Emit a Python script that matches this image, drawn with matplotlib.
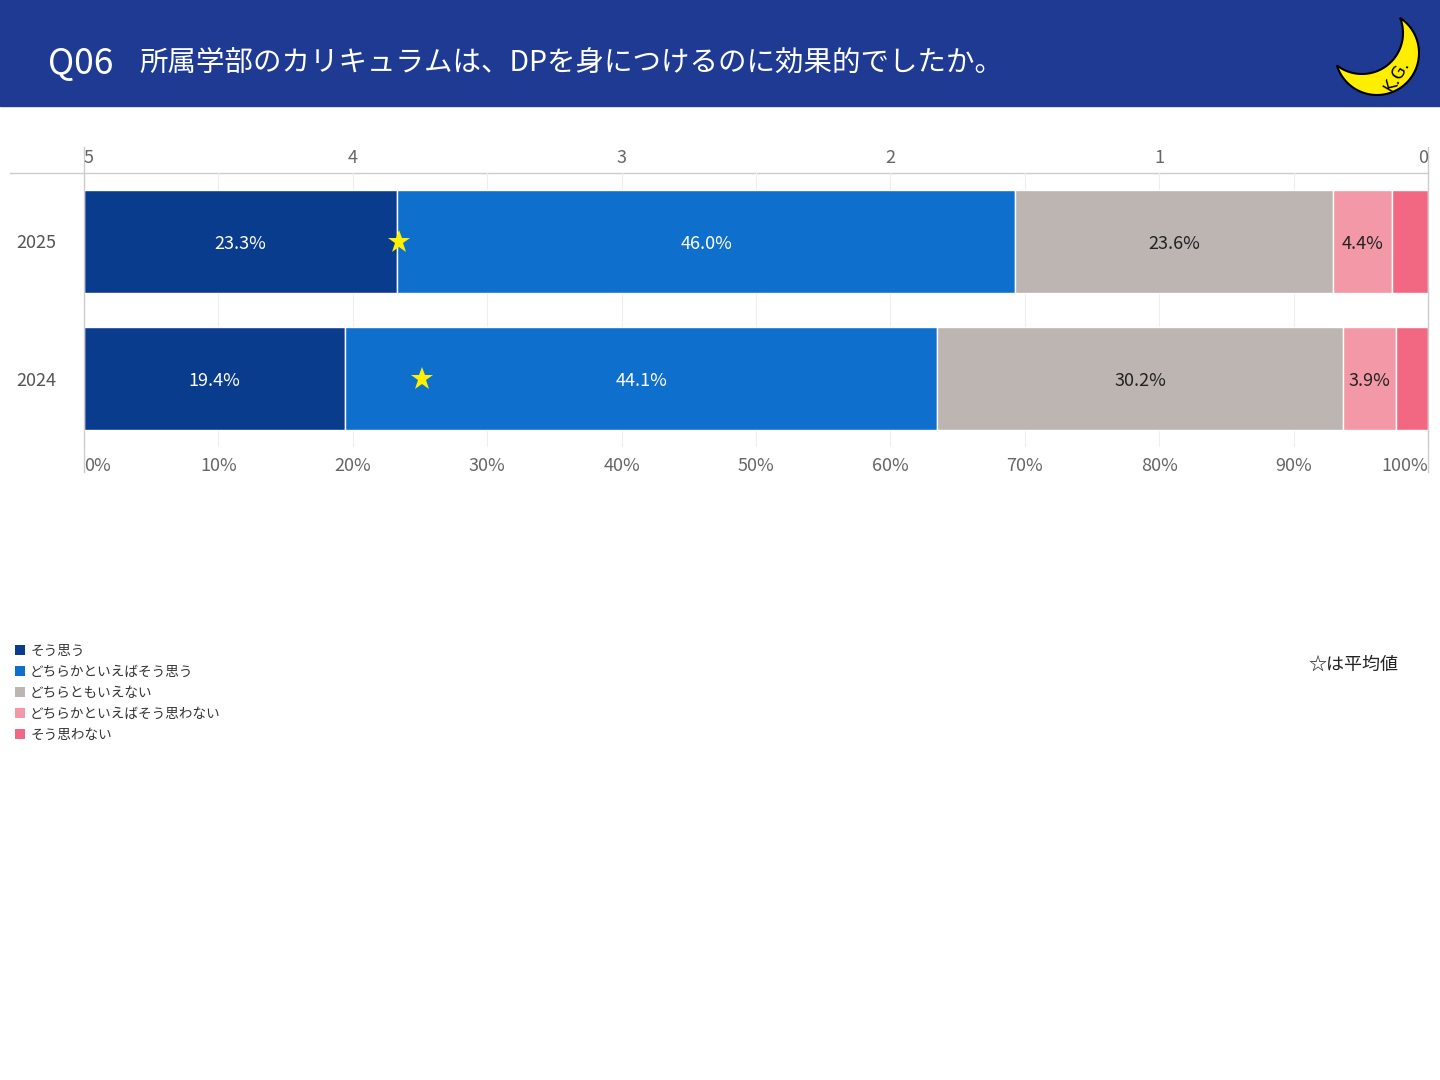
import numpy as np
import matplotlib
matplotlib.use('Agg')
import matplotlib.pyplot as plt
from matplotlib.patches import Rectangle, Polygon
from matplotlib.lines import Line2D

plt.rcParams['font.family'] = ['Noto Sans CJK JP', 'DejaVu Sans']

# data
years = ['2025', '2024']
categories = ['そう思う', 'どちらかといえばそう思う', 'どちらともいえない',
              'どちらかといえばそう思わない', 'そう思わない']
scores = [5, 4, 3, 2, 1]
values = {
    '2025': [23.3, 46.0, 23.6, 4.4, 2.7],
    '2024': [19.4, 44.1, 30.2, 3.9, 2.4],
}
colors = ['#0A3C8E', '#0F6FCD', '#BDB5B1', '#F398A7', '#F26882']
text_colors = ['white', 'white', '#222222', '#222222', '#222222']
q_label = 'Q06'
title = '所属学部のカリキュラムは、DPを身につけるのに効果的でしたか。'
top_ticks = [5, 4, 3, 2, 1, 0]

W, H = 1440, 1080
fig = plt.figure(figsize=(W / 100, H / 100), dpi=100)

# background / header layer in pixel coords
bg = fig.add_axes([0, 0, 1, 1])
bg.set_xlim(0, W)
bg.set_ylim(H, 0)
bg.axis('off')
header_col = '#1F3A93'
bg.add_patch(Rectangle((0, 0), W, 106, color=header_col, zorder=0))
bg.text(48, 64, q_label, color='white', fontsize=25.5, va='center', ha='left')
bg.text(139, 64, title, color='white', fontsize=20.5, va='center', ha='left')


def crescent(c1, r1, c2, r2, n=80):
    # outer arc of circle 1 outside circle 2, then inner arc of circle 2
    c1, c2 = np.array(c1, float), np.array(c2, float)
    d = np.linalg.norm(c2 - c1)
    phi = np.arctan2(*(c2 - c1)[::-1])
    a = np.arccos((d**2 + r1**2 - r2**2) / (2 * d * r1))
    b = np.arccos((d**2 + r2**2 - r1**2) / (2 * d * r2))
    t1 = np.linspace(phi + a, phi + 2 * np.pi - a, n)
    outer = c1 + r1 * np.c_[np.cos(t1), np.sin(t1)]
    t2 = np.linspace(phi + np.pi - b, phi + np.pi + b, n)
    inner = c2 + r2 * np.c_[np.cos(t2), np.sin(t2)]
    if np.linalg.norm(inner[0] - outer[-1]) > np.linalg.norm(inner[-1] - outer[-1]):
        inner = inner[::-1]
    return np.vstack([outer, inner])


bg.add_patch(Polygon(crescent((1377, 53), 42, (1362, 33), 41), closed=True,
                     facecolor='#FFEE00', edgecolor='black', lw=1.5, zorder=2))
bg.text(1397, 76, 'K.G.', fontsize=12, rotation=60, ha='center', va='center',
        color='black', family=['DejaVu Sans'], zorder=4)

# horizontal rule above bars
bg.plot([10, 1428], [173, 173], color='#cccccc', lw=1, zorder=1)

# main chart
ax = fig.add_axes([84 / W, 1 - 447 / H, 1344 / W, 274 / H])
ax.patch.set_alpha(0)
ax.set_xlim(0, 100)
ax.set_ylim(1.5, -0.5)
for s in ax.spines.values():
    s.set_visible(False)
ax.set_xticks(np.arange(0, 101, 10))
ax.grid(axis='x', color='#eeeeee', lw=0.8)
ax.set_axisbelow(True)

for i, yr in enumerate(years):
    left = 0
    for j, v in enumerate(values[yr]):
        ax.barh(i, v, left=left, height=0.745, color=colors[j],
                edgecolor='white', linewidth=1)
        if v >= 3:
            ax.text(left + v / 2, i + 0.02, f'{v:.1f}%', ha='center', va='center',
                    color=text_colors[j], fontsize=13)
        left += v
    mean = sum(s * v for s, v in zip(scores, values[yr])) / sum(values[yr])
    ax.plot((5 - mean) / 5 * 100, i, marker='*', color='#FFF000',
            markersize=17, markeredgewidth=0, zorder=5)

ax.set_yticks(range(len(years)))
ax.set_yticklabels(years)
ax.tick_params(axis='y', length=0, pad=20, labelsize=13, labelcolor='#555555')
ax.tick_params(axis='x', length=0, pad=7, labelsize=13, labelcolor='#666666')
xl = ax.set_xticklabels([f'{p}%' for p in range(0, 101, 10)])
xl[0].set_ha('left')
xl[-1].set_ha('right')

top = ax.twiny()
top.patch.set_alpha(0)
top.set_xlim(0, 100)
top.set_xticks([(5 - t) / 5 * 100 for t in top_ticks])
tl = top.set_xticklabels([str(t) for t in top_ticks])
tl[0].set_ha('left')
tl[-1].set_ha('right')
top.tick_params(axis='x', length=0, pad=4, labelsize=13, labelcolor='#666666')
for s in top.spines.values():
    s.set_visible(False)

for x in (0, 100):
    ax.axvline(x, ymin=-0.091, ymax=1.095, color='#cccccc', lw=1, clip_on=False)

handles = [Line2D([], [], marker='s', linestyle='none', markersize=7.5,
                  markerfacecolor=c, markeredgewidth=0) for c in colors]
fig.legend(handles, categories, loc='upper left',
           bbox_to_anchor=(9 / W, 1 - 638 / H), frameon=False,
           fontsize=9.8, labelcolor='#333333', handlelength=0.8,
           handletextpad=0.35, labelspacing=0.52, borderaxespad=0)

bg.text(1398, 665, '☆は平均値', ha='right', va='center', fontsize=13, color='#222222')

fig.savefig('out.png', dpi=100)
